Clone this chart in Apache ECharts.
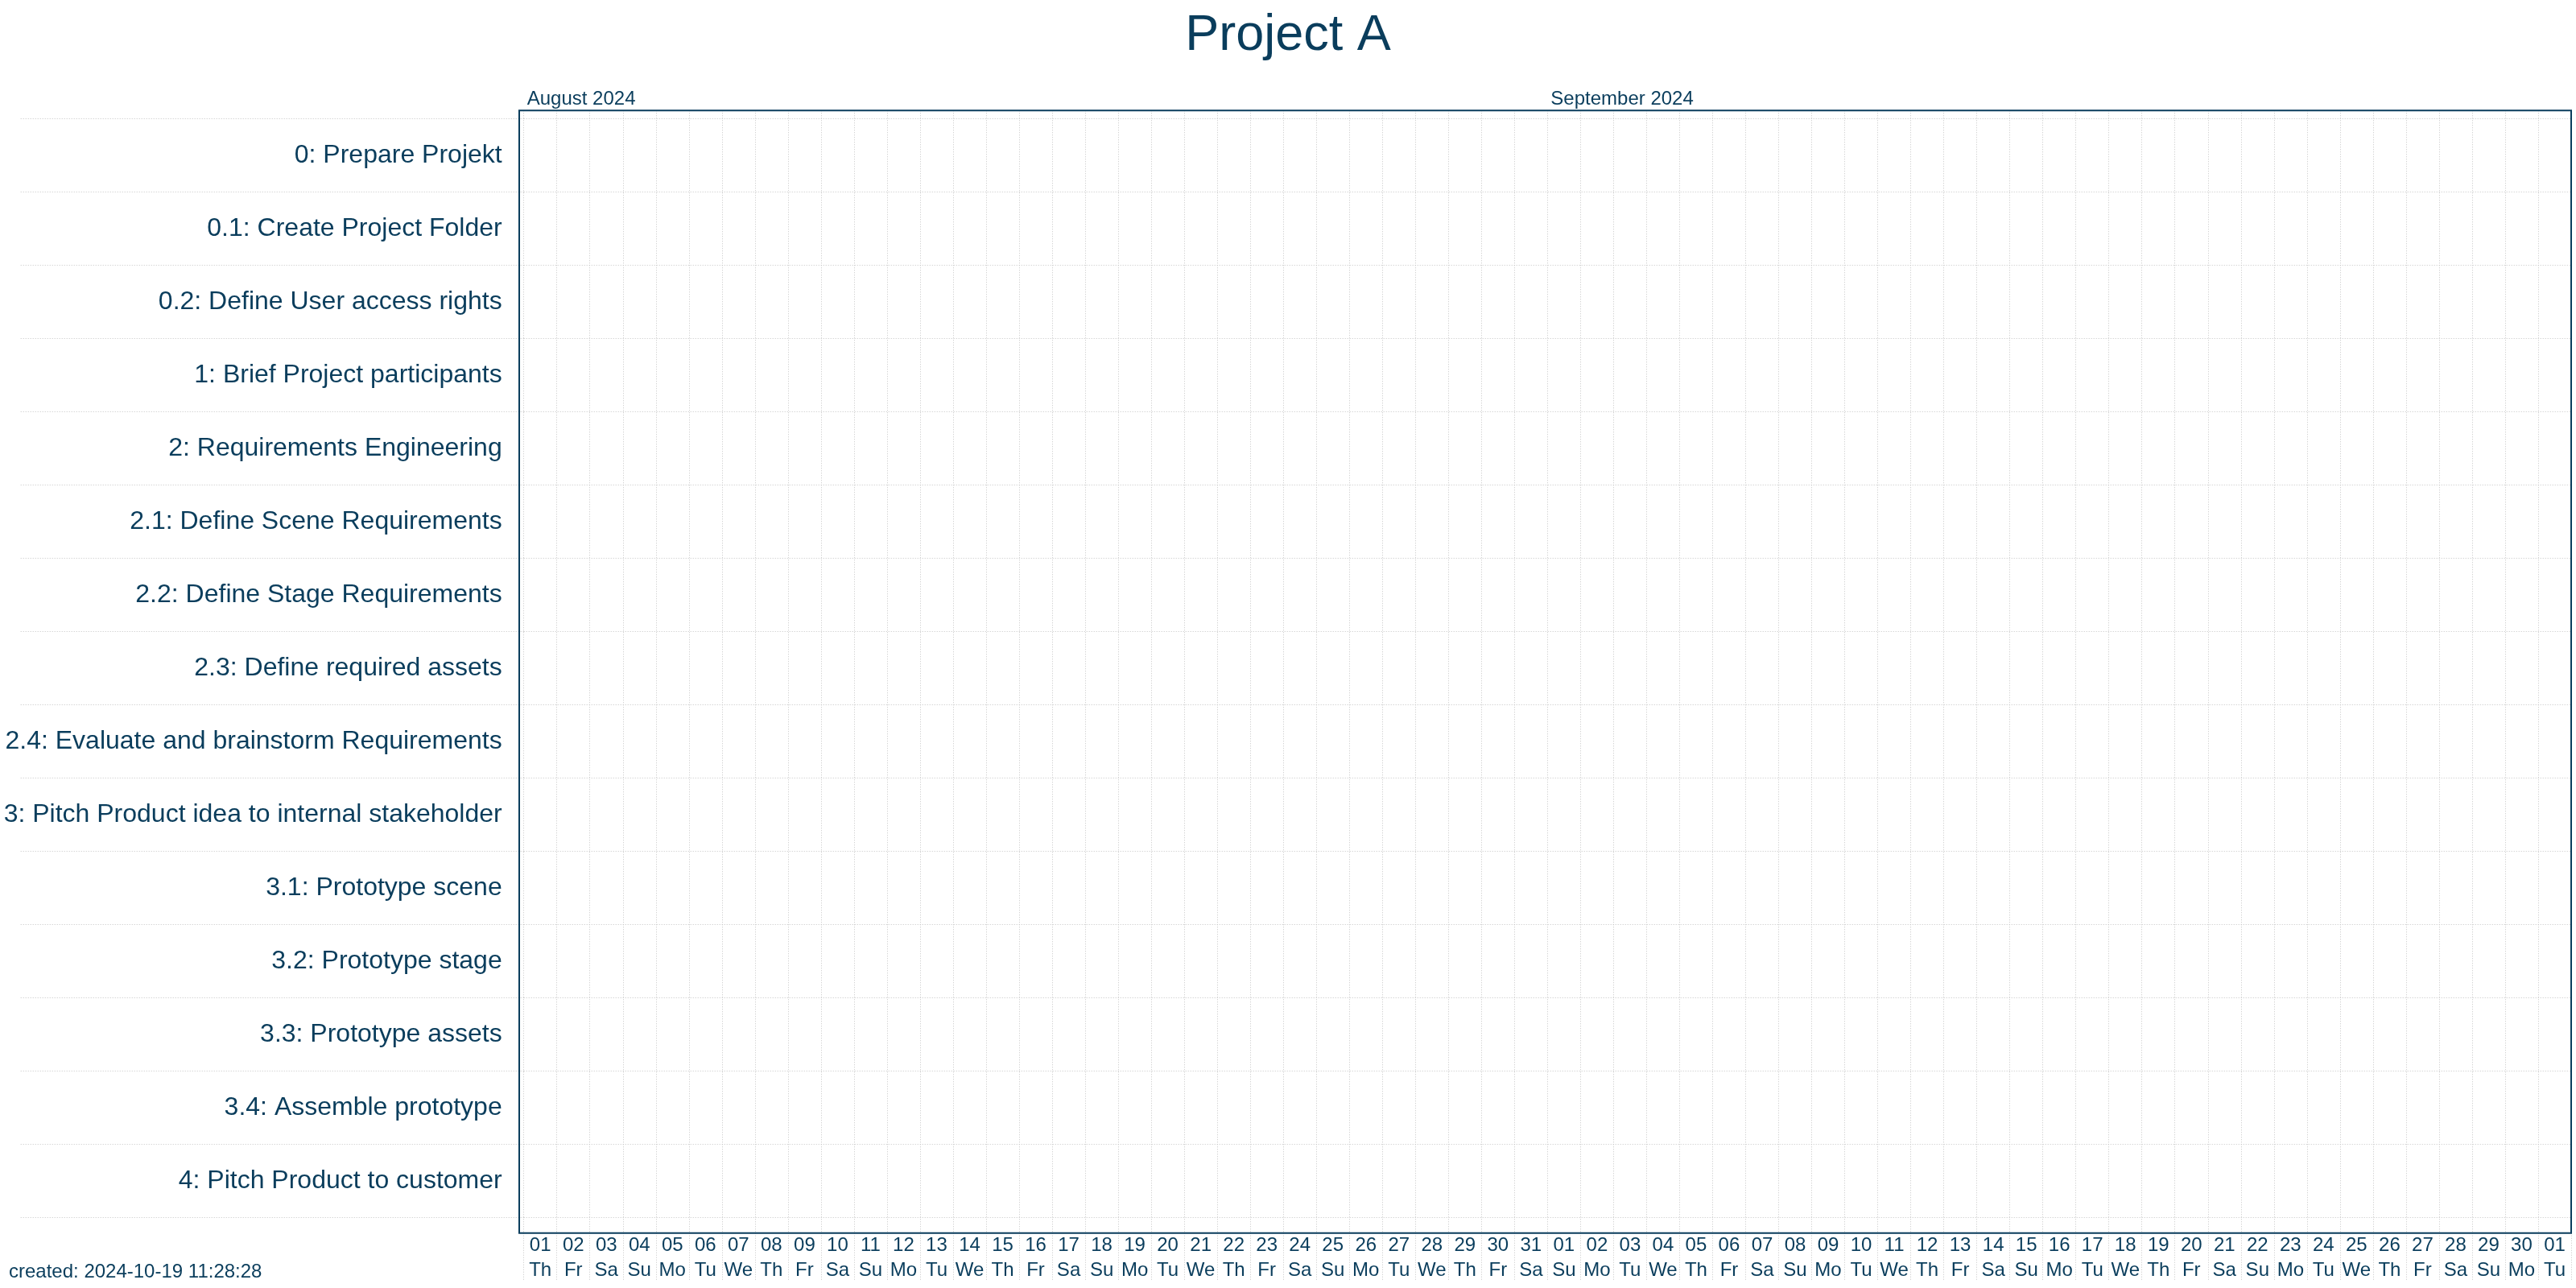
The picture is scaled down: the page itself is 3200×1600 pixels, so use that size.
<!DOCTYPE html>
<html>
<head>
<meta charset="utf-8">
<script src="https://cdn.jsdelivr.net/npm/echarts@6/dist/echarts.min.js"></script>
<style>
html,body{margin:0;padding:0;background:#fff;}
#chart{width:3200px;height:1600px;}
</style>
</head>
<body>
<div id="chart"></div>
<script>
// ---- data ----
var tasks = [
  '0: Prepare Projekt',
  '0.1: Create Project Folder',
  '0.2: Define User access rights',
  '1: Brief Project participants',
  '2: Requirements Engineering',
  '2.1: Define Scene Requirements',
  '2.2: Define Stage Requirements',
  '2.3: Define required assets',
  '2.4: Evaluate and brainstorm Requirements',
  '3: Pitch Product idea to internal stakeholder',
  '3.1: Prototype scene',
  '3.2: Prototype stage',
  '3.3: Prototype assets',
  '3.4: Assemble prototype',
  '4: Pitch Product to customer'
];
var dayNumbers = [
  '01','02','03','04','05','06','07','08','09','10','11','12','13','14','15','16',
  '17','18','19','20','21','22','23','24','25','26','27','28','29','30','31',
  '01','02','03','04','05','06','07','08','09','10','11','12','13','14','15','16',
  '17','18','19','20','21','22','23','24','25','26','27','28','29','30',
  '01'
];
var weekdays = [
  'Th','Fr','Sa','Su','Mo','Tu','We','Th','Fr','Sa','Su','Mo','Tu','We','Th','Fr',
  'Sa','Su','Mo','Tu','We','Th','Fr','Sa','Su','Mo','Tu','We','Th','Fr','Sa',
  'Su','Mo','Tu','We','Th','Fr','Sa','Su','Mo','Tu','We','Th','Fr','Sa','Su','Mo',
  'Tu','We','Th','Fr','Sa','Su','Mo','Tu','We','Th','Fr','Sa','Su','Mo',
  'Tu'
];
var months = ['August 2024', 'September 2024'];
var monthStartIndex = [0, 31];
// task bars: [taskIndex, startDayIndex, endDayIndex] - none visible in range
var taskBars = [];
var titleText = 'Project A';
var createdText = 'created: 2024-10-19 11:28:28';

// ---- styles ----
var NAVY = '#0a3d5c';
var GRIDC = '#c4c4c4';
var FONT = '"Liberation Sans", Arial, Helvetica, sans-serif';

var chart = echarts.init(document.getElementById('chart'), null, {renderer: 'canvas'});
var option = {
  backgroundColor: '#ffffff',
  animation: false,
  textStyle: {fontFamily: FONT},
  title: [
    {text: titleText, left: 'center', top: 8,
     textStyle: {fontSize: 63, fontWeight: 'normal', color: NAVY, fontFamily: FONT}},
    {text: createdText, left: 6, top: 1563,
     textStyle: {fontSize: 24, fontWeight: 'normal', color: NAVY, fontFamily: FONT}}
  ],
  grid: [
    {left: 650.7, right: 6, top: 137.3, bottom: 68.3, containLabel: false},
    {left: 650.7, right: 6, top: 147.3, bottom: 87.7, containLabel: false},
    {left: 645, right: 6, top: 137.3, bottom: 68.3, containLabel: false,
     show: true, borderColor: NAVY, borderWidth: 2, backgroundColor: 'transparent', z: 10}
  ],
  xAxis: [
    {
      type: 'category', gridIndex: 0, position: 'bottom', data: dayNumbers,
      boundaryGap: true,
      axisLine: {show: false},
      axisTick: {show: true, interval: 0, length: 58, alignWithLabel: false,
                 lineStyle: {color: GRIDC, width: 1, type: [1, 2]}},
      splitLine: {show: true, interval: 0, lineStyle: {color: GRIDC, width: 1, type: [1, 2]}},
      axisLabel: {
        interval: 0, margin: 0, fontSize: 24, lineHeight: 31, color: NAVY, fontFamily: FONT,
        formatter: function (v, i) { return v + '\n' + weekdays[i]; }
      }
    },
    {
      type: 'value', gridIndex: 0, position: 'top', min: 0, max: dayNumbers.length, interval: 1,
      axisLine: {show: false}, axisTick: {show: false}, splitLine: {show: false},
      axisLabel: {
        show: true, margin: 2, fontSize: 24, color: NAVY, fontFamily: FONT, align: 'left',
        padding: [0, 0, 0, 4], showMinLabel: true, showMaxLabel: true,
        formatter: function (v) {
          var k = monthStartIndex.indexOf(v);
          return k >= 0 ? months[k] : '';
        }
      }
    },
    {type: 'value', gridIndex: 1, show: false, min: 0, max: dayNumbers.length},
    {type: 'value', gridIndex: 2, show: false}
  ],
  yAxis: [
    {type: 'value', gridIndex: 0, show: false},
    {
      type: 'category', gridIndex: 1, data: tasks, inverse: true, boundaryGap: true,
      axisLine: {show: false},
      axisTick: {show: true, interval: 0, length: 625.7, alignWithLabel: false,
                 lineStyle: {color: GRIDC, width: 1, type: [1, 2]}},
      splitLine: {show: true, interval: 0, lineStyle: {color: GRIDC, width: 1, type: [1, 2]}},
      axisLabel: {interval: 0, margin: 27, fontSize: 32, color: NAVY, fontFamily: FONT}
    },
    {type: 'value', gridIndex: 2, show: false}
  ],
  series: [
    {
      type: 'custom', xAxisIndex: 2, yAxisIndex: 1,
      encode: {x: [1, 2], y: 0},
      renderItem: function (params, api) {
        var s = api.coord([api.value(1), api.value(0)]);
        var e = api.coord([api.value(2), api.value(0)]);
        var h = api.size([0, 1])[1] * 0.5;
        return {type: 'rect', shape: {x: s[0], y: s[1] - h / 2, width: e[0] - s[0], height: h},
                style: {fill: NAVY}};
      },
      data: taskBars
    }
  ]
};
chart.setOption(option);
</script>
</body>
</html>
